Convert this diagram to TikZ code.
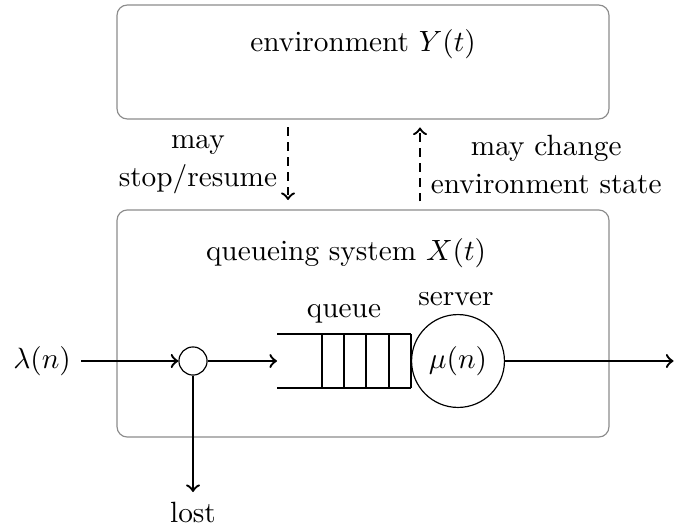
\documentclass[tikz,border=0pt]{standalone}
\begin{document}
\begin{tikzpicture}[x=0.3413pt,y=-0.3413pt,
  panel/.style={draw=black!45, rounded corners=3.5pt, minimum width=167.9pt, inner sep=0pt},
  flow/.style={thick,->},
  signal/.style={thick,dash pattern=on 2.8pt off 2.3pt,->},
  lbl/.style={align=center},
  ring/.style={draw, circle, inner sep=0pt}]
\useasboundingbox (0,0) rectangle (674,529);

% environment and queueing system panels
\node[panel, minimum height=38.9pt] (env) at (363,62) {};
\node[panel, minimum height=77.5pt] (sys) at (363,323.5) {};
\node[anchor=base] (envtitle) at (363,51) {environment $Y(t)$};
\node[anchor=base] (systitle) at (346,260) {queueing system $X(t)$};

% interaction between the two panels
\coordinate (dl) at (288,0);
\coordinate (dr) at (420,0);
\draw[signal, shorten <=2.7pt, shorten >=3.2pt] (env.south -| dl) --
  node[left, lbl] {may\\[0.8pt]stop/resume} (sys.north -| dl);
\draw[signal, shorten <=2.7pt, shorten >=2.7pt] (sys.north -| dr) --
  node[right, lbl] {may change\\[0.8pt]environment state} (env.south -| dr);

% arrivals and the loss branch
\node (in) at (42,361) {$\lambda(n)$};
\node[ring, minimum size=9.6pt] (split) at (193,361) {};
\node[anchor=north] (lost) at (193,492) {lost};
\coordinate (qin) at (277,361);
\draw[flow] (in.east) -- (split.west);
\draw[flow] (split.east) -- (qin);
\draw[flow] (split.south) -- (lost.north);

% buffer of the queue
\draw (277,334) -- (411,334);
\draw (277,388) -- (411,388);
\foreach \qx in {322,344,366,389,411}
  \draw (\qx,334) -- (\qx,388);
\node (qlabel) at (344,314) {queue};

% server and departures
\node[ring, minimum size=31.7pt] (server) at (458,361) {$\mu(n)$};
\node (slabel) at (456,299.5) {server};
\coordinate (out) at (673.5,361);
\draw[flow] (server.east) -- (out);
\end{tikzpicture}
\end{document}
